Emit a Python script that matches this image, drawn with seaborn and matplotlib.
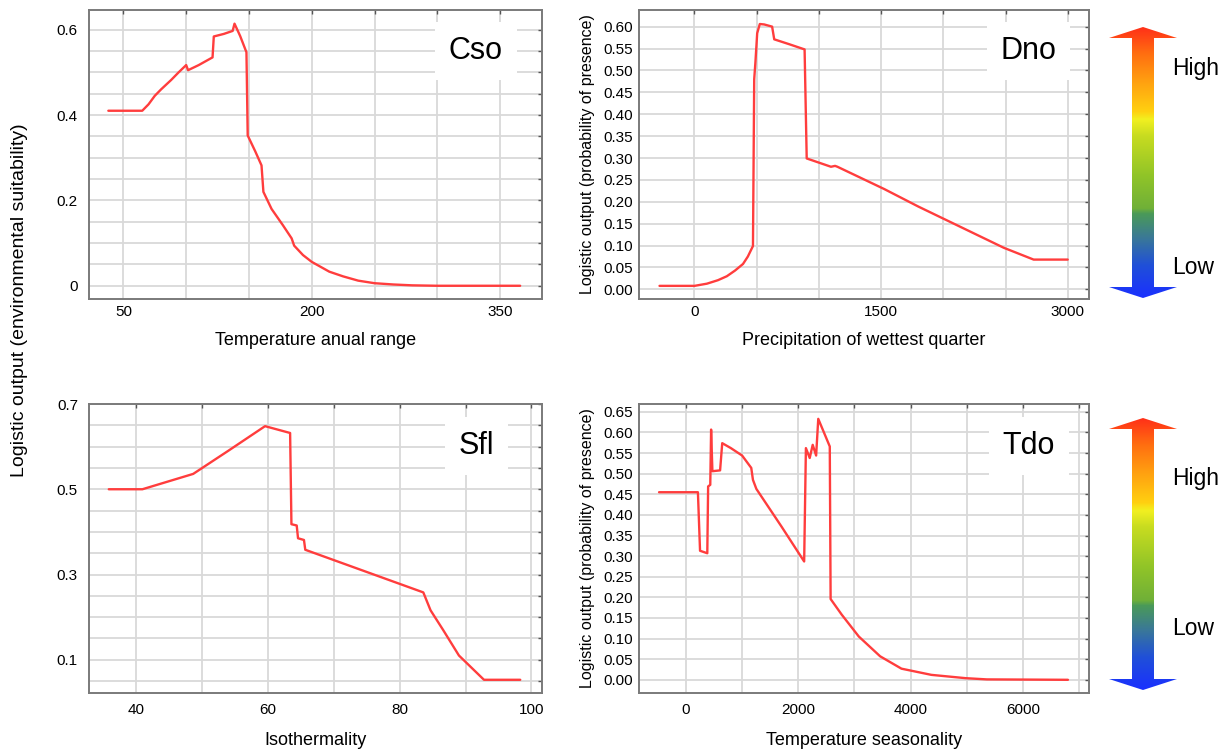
import matplotlib
matplotlib.use("Agg")
import numpy as np
import pandas as pd
import matplotlib.pyplot as plt
from matplotlib import ticker
from matplotlib.colors import LinearSegmentedColormap
from matplotlib.patches import Polygon
import seaborn as sns

#%% Response curves
cso_x = [38, 65, 70, 75, 80, 88, 94, 100, 101.5, 110, 121, 122, 130, 137, 138.5,
         143, 148, 149, 155, 160, 161.5, 168, 177, 184, 186, 193, 200, 214, 225,
         237, 250, 265, 280, 300, 366]
cso_y = [0.41, 0.41, 0.425, 0.445, 0.46, 0.482, 0.50, 0.517, 0.505, 0.517, 0.535,
         0.584, 0.59, 0.597, 0.614, 0.585, 0.547, 0.352, 0.315, 0.282, 0.22, 0.18,
         0.142, 0.111, 0.094, 0.072, 0.056, 0.033, 0.022, 0.012, 0.006, 0.003,
         0.001, 0.0, 0.0]

dno_x = [-281, 0, 100, 189, 260, 326, 390, 429, 470, 480, 490, 504, 525, 560, 624,
         641, 760, 885, 902, 1097, 1130, 1149, 1526, 1800, 2486, 2726, 3000]
dno_y = [0.008, 0.008, 0.013, 0.021, 0.03, 0.043, 0.058, 0.075, 0.099, 0.48, 0.52,
         0.585, 0.606, 0.605, 0.60, 0.571, 0.56, 0.548, 0.299, 0.28, 0.282, 0.28,
         0.229, 0.189, 0.095, 0.068, 0.068]

sfl_x = [35.9, 41, 48.7, 54, 59.6, 63.4, 63.6, 64.4, 64.6, 65.5, 65.7, 83.6, 84.7,
         86.6, 89, 92.8, 98.3]
sfl_y = [0.5, 0.5, 0.536, 0.59, 0.648, 0.632, 0.418, 0.415, 0.385, 0.381, 0.358,
         0.258, 0.216, 0.17, 0.11, 0.053, 0.053]

tdo_x = [-479, 213, 251, 380, 395, 433, 448, 471, 608, 646, 800, 1000, 1163, 1193,
         1254, 1700, 2105, 2136, 2204, 2257, 2318, 2356, 2561, 2576, 2774, 3078,
         3458, 3838, 4370, 4978, 5358, 6802]
tdo_y = [0.455, 0.455, 0.313, 0.307, 0.469, 0.473, 0.607, 0.506, 0.508, 0.574,
         0.562, 0.544, 0.514, 0.485, 0.463, 0.372, 0.287, 0.562, 0.538, 0.570,
         0.544, 0.633, 0.566, 0.196, 0.158, 0.105, 0.057, 0.027, 0.012, 0.004,
         0.001, 0.0]

species = ["Cso", "Dno", "Sfl", "Tdo"]
xlabels = ["Temperature anual range", "Precipitation of wettest quarter",
           "Isothermality", "Temperature seasonality"]
side_ylabel = "Logistic output (probability of presence)"
main_ylabel = "Logistic output (environmental suitability)"

#%% Style
sns.set_style("white")
plt.rcParams["font.family"] = ["Liberation Sans", "DejaVu Sans"]
plt.rcParams["text.color"] = "black"
plt.rcParams["axes.labelcolor"] = "black"

W, H = 1228, 752
fig = plt.figure(figsize=(W / 100, H / 100), dpi=100)


def px_axes(left, top, right, bottom):
    return fig.add_axes([left / W, 1 - bottom / H, (right - left) / W, (bottom - top) / H])


line_color = "#ff3d3d"
grid_color = "#d9d9d9"
spine_color = "#7a7a7a"

panels = [
    dict(box=(89, 10, 542, 299), x=cso_x, y=cso_y, xlim=(22.6, 383.4), ylim=(-0.031, 0.646),
         xticks=[50, 200, 350], xminor=50, yticks=[0, 0.2, 0.4, 0.6], yminor=0.05,
         yfmt=lambda v, p: "0" if v == 0 else f"{v:.1f}", tag=(0.854, 0.858),
         xpad=4.5, xlpad=9, ypad=8),
    dict(box=(639, 10, 1089, 299), x=dno_x, y=dno_y, xlim=(-446, 3171), ylim=(-0.022, 0.638),
         xticks=[0, 1500, 3000], xminor=500, yticks=list(np.arange(0, 0.61, 0.05)), yminor=0.05,
         yfmt=lambda v, p: f"{v:.2f}", tag=(0.866, 0.858),
         xpad=4.5, xlpad=9, ypad=4),
    dict(box=(89, 404, 542, 693), x=sfl_x, y=sfl_y, xlim=(32.9, 101.6), ylim=(0.022, 0.70),
         xticks=[40, 60, 80, 100], xminor=10, yticks=[0.1, 0.3, 0.5, 0.7], yminor=0.05,
         yfmt=lambda v, p: f"{v:.1f}", tag=(0.856, 0.855),
         xpad=7, xlpad=11, ypad=8),
    dict(box=(639, 404, 1089, 693), x=tdo_x, y=tdo_y, xlim=(-836, 7177), ylim=(-0.032, 0.669),
         xticks=[0, 2000, 4000, 6000], xminor=1000, yticks=list(np.arange(0, 0.66, 0.05)), yminor=0.05,
         yfmt=lambda v, p: f"{v:.2f}", tag=(0.866, 0.855),
         xpad=7, xlpad=11, ypad=4),
]

for i, cfg in enumerate(panels):
    ax = px_axes(*cfg["box"])
    df = pd.DataFrame({"x": cfg["x"], "y": cfg["y"]})
    sns.lineplot(data=df, x="x", y="y", ax=ax, color=line_color, lw=1.7,
                 estimator=None, sort=False, zorder=3)
    ax.set_xlim(*cfg["xlim"])
    ax.set_ylim(*cfg["ylim"])
    ax.set_xticks(cfg["xticks"])
    ax.set_yticks(cfg["yticks"])
    ax.xaxis.set_minor_locator(ticker.MultipleLocator(cfg["xminor"]))
    ax.yaxis.set_minor_locator(ticker.MultipleLocator(cfg["yminor"]))
    ax.yaxis.set_major_formatter(ticker.FuncFormatter(cfg["yfmt"]))
    ax.grid(True, which="both", color=grid_color, lw=1.3, zorder=0)
    ax.tick_params(which="both", direction="in", top=True, right=True, length=3,
                   width=1, color="#555555", labelcolor="black")
    ax.tick_params(axis="x", which="major", labelsize=11, pad=cfg["xpad"])
    ax.tick_params(axis="y", which="major", labelsize=11, pad=cfg["ypad"])
    for s in ax.spines.values():
        s.set_color(spine_color)
        s.set_linewidth(1.4)
    ax.set_xlabel(xlabels[i], fontsize=13, labelpad=cfg["xlpad"])
    if i % 2 == 1:
        ax.set_ylabel(side_ylabel, fontsize=11.5, labelpad=6)
    else:
        ax.set_ylabel("")
    ax.text(*cfg["tag"], species[i], transform=ax.transAxes, fontsize=22,
            ha="center", va="center", zorder=4,
            bbox=dict(boxstyle="square,pad=0.45", fc="white", ec="none"))

fig.text(20 / W, 1 - 300 / H, main_ylabel, rotation=90, fontsize=14,
         ha="center", va="center")

#%% Colour arrows on the right
arrow_cmap = LinearSegmentedColormap.from_list("suit", [
    (0.00, "#1a30ff"), (0.12, "#2050d8"), (0.22, "#3a7898"), (0.31, "#4a9a58"),
    (0.33, "#70b038"), (0.45, "#90c428"), (0.60, "#c8dc20"), (0.66, "#f2f020"),
    (0.69, "#ffd010"), (0.80, "#ffa010"), (0.90, "#ff7010"), (1.00, "#ff3018")])

over = fig.add_axes([0, 0, 1, 1], zorder=-1)
over.set_axis_off()
grad = np.linspace(1, 0, 256).reshape(-1, 1)
cx, shaft, head, hh = 1143, 11, 34, 11
for top, bot, hi, lo in [(27, 298, 75, 274), (418, 690, 485, 635)]:
    pts = [(cx, top), (cx + head, top + hh), (cx + shaft, top + hh),
           (cx + shaft, bot - hh), (cx + head, bot - hh), (cx, bot),
           (cx - head, bot - hh), (cx - shaft, bot - hh), (cx - shaft, top + hh),
           (cx - head, top + hh)]
    poly = Polygon(pts, closed=True, fc="none", ec="none")
    over.add_patch(poly)
    im = over.imshow(grad, cmap=arrow_cmap, aspect="auto",
                     extent=(cx - head, cx + head, bot, top), origin="upper")
    im.set_clip_path(poly)
    over.text(1172, hi, "High", fontsize=16.5, ha="left", va="baseline")
    over.text(1172, lo, "Low", fontsize=16.5, ha="left", va="baseline")
over.set_xlim(0, W)
over.set_ylim(H, 0)

fig.savefig("out.png", dpi=100)
